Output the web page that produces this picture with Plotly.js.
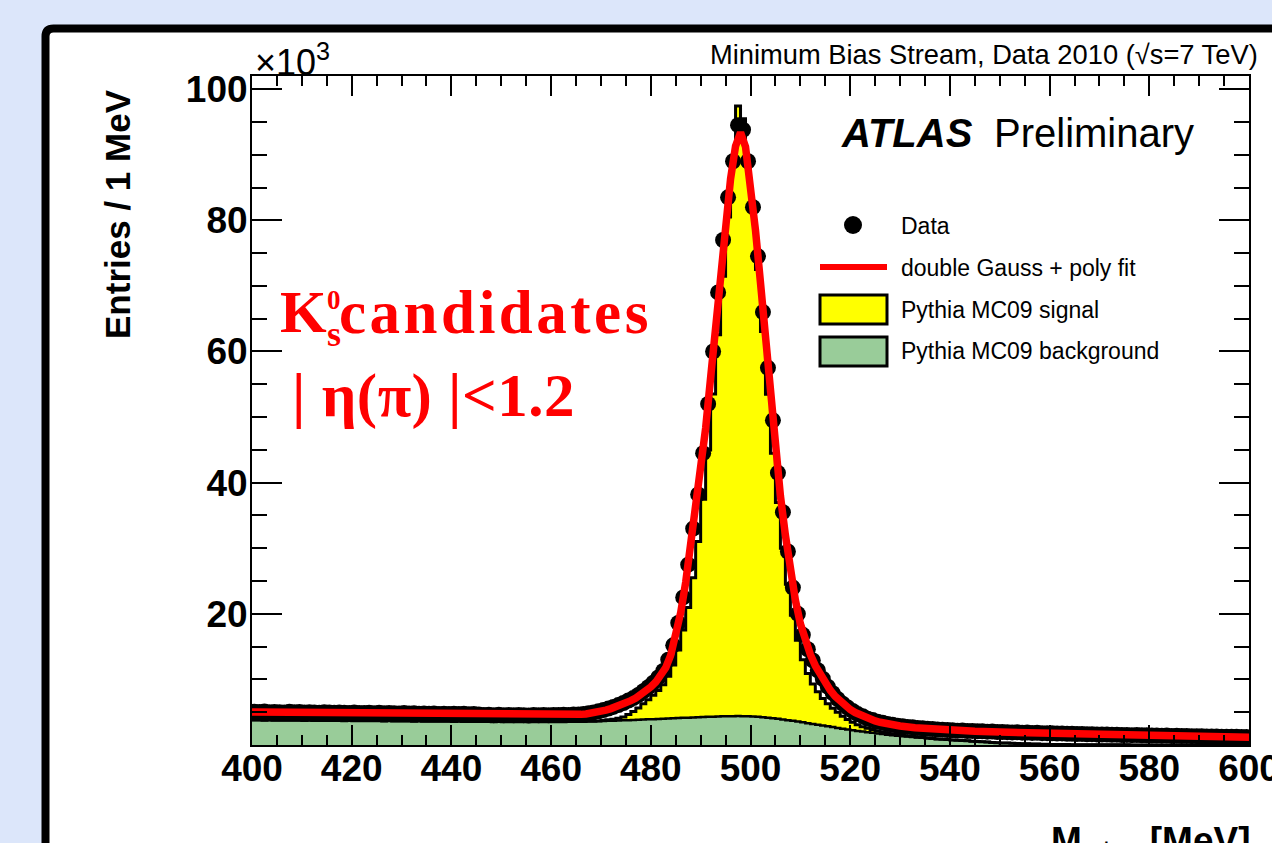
<!DOCTYPE html>
<html>
<head>
<meta charset="utf-8">
<script src="https://cdn.plot.ly/plotly-3.0.1.min.js"></script>
<style>
html,body{margin:0;padding:0;background:#dce6fa;}
#chart{width:1272px;height:843px;}
</style>
</head>
<body>
<div id="chart"></div>
<script>
// ---------------- data (entries in units of 10^3 per 1 MeV bin) ----------------
const binLowEdge = 400;
const binWidth = 1;

const dataCounts = [
  5.08,5.02,5.10,4.98,5.05,5.00,4.95,5.06,4.99,5.03,
  4.94,5.01,4.97,4.92,5.00,4.95,4.90,4.97,4.93,4.88,
  4.95,4.89,4.86,4.92,4.85,4.90,4.83,4.88,4.84,4.80,
  4.86,4.79,4.83,4.78,4.81,4.76,4.80,4.74,4.78,4.72,
  4.77,4.71,4.75,4.69,4.73,4.66,4.58,4.62,4.55,4.60,
  4.53,4.58,4.52,4.57,4.55,4.50,4.56,4.53,4.58,4.54,
  4.59,4.56,4.61,4.58,4.64,4.66,4.72,4.83,4.97,5.13,
  5.33,5.55,5.80,6.08,6.40,6.78,7.15,7.62,8.20,8.80,
  9.50,10.3,11.3,13.0,15.2,18.6,22.5,27.5,33.0,38.2,
  44.5,52.0,60.0,69.0,77.0,83.5,89.0,94.5,93.8,89.0,
  82.0,74.5,66.0,57.5,49.5,41.5,35.5,29.5,24.0,20.0,
  16.8,14.6,12.9,11.4,10.1,8.90,7.90,7.00,6.30,5.70,
  5.18,4.72,4.40,4.02,3.80,3.55,3.40,3.20,3.10,2.94,
  2.86,2.76,2.70,2.58,2.55,2.46,2.44,2.36,2.34,2.27,
  2.26,2.19,2.20,2.13,2.14,2.08,2.09,2.03,2.04,1.98,
  1.97,1.95,1.92,1.93,1.88,1.89,1.84,1.85,1.80,1.81,
  1.78,1.75,1.76,1.71,1.72,1.68,1.69,1.64,1.65,1.61,
  1.60,1.59,1.56,1.57,1.53,1.54,1.50,1.51,1.47,1.48,
  1.45,1.44,1.42,1.43,1.39,1.40,1.37,1.38,1.34,1.35,
  1.32,1.31,1.29,1.30,1.27,1.27,1.24,1.25,1.22,1.21
];

const mcBackground = [
  3.80,3.81,3.79,3.80,3.78,3.79,3.77,3.78,3.76,3.77,
  3.75,3.76,3.74,3.75,3.73,3.74,3.72,3.73,3.71,3.72,
  3.70,3.71,3.69,3.70,3.68,3.69,3.67,3.68,3.66,3.67,
  3.65,3.66,3.64,3.65,3.63,3.64,3.62,3.63,3.61,3.62,
  3.60,3.61,3.59,3.60,3.58,3.59,3.57,3.58,3.56,3.57,
  3.55,3.56,3.54,3.55,3.54,3.55,3.53,3.54,3.54,3.55,
  3.55,3.56,3.56,3.57,3.58,3.59,3.60,3.62,3.63,3.65,
  3.67,3.69,3.71,3.74,3.76,3.79,3.82,3.85,3.88,3.91,
  3.94,3.97,4.00,4.04,4.07,4.10,4.14,4.17,4.20,4.23,
  4.26,4.29,4.32,4.35,4.37,4.39,4.40,4.41,4.40,4.38,
  4.34,4.29,4.23,4.16,4.08,3.99,3.89,3.79,3.68,3.57,
  3.45,3.33,3.21,3.09,2.97,2.85,2.73,2.61,2.49,2.37,
  2.26,2.15,2.05,1.95,1.85,1.76,1.67,1.58,1.50,1.42,
  1.35,1.28,1.21,1.15,1.09,1.03,0.98,0.93,0.88,0.83,
  0.78,0.73,0.68,0.63,0.58,0.53,0.48,0.44,0.40,0.36,
  0.32,0.29,0.26,0.23,0.20,0.18,0.16,0.14,0.12,0.10,
  0.09,0.08,0.07,0.06,0.05,0.05,0.04,0.04,0.03,0.03,
  0.03,0.02,0.02,0.02,0.02,0.02,0.01,0.01,0.01,0.01,
  0.01,0.01,0.01,0.01,0.01,0.01,0.01,0.01,0.01,0.01,
  0.01,0.01,0.01,0.01,0.01,0.01,0.01,0.01,0.01,0.01
];

// MC signal, stacked on the background, starting at bin 470 MeV
const mcSignalFirstBin = 470;
const mcSignal = [
  0.10,0.15,0.22,0.32,0.50,0.85,1.30,1.80,2.40,3.00,
  3.66,4.33,5.20,6.46,8.13,10.4,13.4,16.8,21.3,26.8,
  33.2,40.7,49.2,58.2,67.1,76.1,84.6,93.0,91.1,85.1,
  77.2,68.2,58.8,49.3,40.4,33.0,26.1,20.7,16.1,12.4,
  9.55,7.57,6.09,5.01,4.13,3.45,2.87,2.39,1.91,1.53,
  1.19,0.95,0.75,0.60,0.50,0.39,0.33,0.27,0.22,0.18,
  0.13,0.10,0.08,0.06,0.04,0.03
];

// double Gauss + poly fit curve
const fitMass = [
  400,410,420,430,440,445,450,455,460,463,
  466,467,468,469,470,471,472,473,474,475,476,477,478,479,
  480,481,482,483,484,485,486,487,488,489,
  490,491,492,493,494,495,496,497,498,499,
  500,501,502,503,504,505,506,507,508,509,
  510,511,512,513,514,515,516,517,518,519,
  520,521,522,523,524,525,526,527,528,529,530,
  533,536,540,545,550,560,570,580,590,600
];
const fitValue = [
  5.05,4.97,4.89,4.82,4.75,4.72,4.57,4.56,4.58,4.61,
  4.67,4.74,4.84,4.97,5.13,5.32,5.55,5.80,6.08,6.40,6.76,7.17,7.65,8.20,
  8.85,9.60,10.5,11.8,13.7,16.5,20.2,24.8,30.2,35.8,
  41.8,48.3,56.0,64.3,72.3,79.8,86.3,91.3,93.4,91.2,
  85.8,78.5,70.5,62.0,53.2,45.0,38.0,32.0,26.6,22.1,
  18.5,15.8,13.8,12.1,10.7,9.45,8.35,7.42,6.62,5.95,
  5.40,4.95,4.56,4.22,3.93,3.68,3.47,3.29,3.14,3.01,2.90,
  2.64,2.45,2.27,2.10,1.97,1.78,1.60,1.45,1.32,1.20
];

const yTickVals = [20, 40, 60, 80, 100];
const legendLabels = ["Data", "double Gauss + poly fit", "Pythia MC09 signal", "Pythia MC09 background"];

// ---------------- derived histogram geometry ----------------
const nBins = dataCounts.length;
const edges = [], centers = [];
for (let i = 0; i <= nBins; i++) edges.push(binLowEdge + i * binWidth);
for (let i = 0; i < nBins; i++) centers.push(binLowEdge + (i + 0.5) * binWidth);
const mcTotal = mcBackground.map((b, i) => {
  const j = i - (mcSignalFirstBin - binLowEdge);
  return b + (j >= 0 && j < mcSignal.length ? mcSignal[j] : 0);
});
const stepY = arr => arr.concat([arr[arr.length - 1]]);

// ---------------- layout helpers (pixel -> paper) ----------------
const ML = 252, MT = 76, PW = 997, PH = 669;
const X = px => (px - ML) / PW;
const Y = py => (MT + PH - py) / PH;

const SANS = 'Liberation Sans, Arial, Helvetica, sans-serif';
const SERIF = 'Liberation Serif, Times New Roman, serif';
const RED = '#ff0000';
const GREEN = '#99cc99';
const YELLOW = '#ffff00';

const traces = [
  {
    type: 'scatter', mode: 'lines', name: legendLabels[3],
    x: edges, y: stepY(mcBackground), line: {shape: 'hv', color: 'black', width: 2.5},
    fill: 'tozeroy', fillcolor: GREEN, hoverinfo: 'skip', showlegend: false
  },
  {
    type: 'scatter', mode: 'lines', name: legendLabels[2],
    x: edges, y: stepY(mcTotal), line: {shape: 'hv', color: 'black', width: 3},
    fill: 'tonexty', fillcolor: YELLOW, hoverinfo: 'skip', showlegend: false
  },
  {
    type: 'scatter', mode: 'markers', name: legendLabels[0],
    x: centers, y: dataCounts, marker: {color: 'black', size: 16}, showlegend: false
  },
  {
    type: 'scatter', mode: 'lines', name: legendLabels[1],
    x: fitMass, y: fitValue, line: {color: RED, width: 7.5}, showlegend: false
  }
];

function roundedPanel(l, t, r, b, rad) {
  return `M ${X(l)},${Y(b)} L ${X(l)},${Y(t + rad)} Q ${X(l)},${Y(t)} ${X(l + rad)},${Y(t)} ` +
         `L ${X(r)},${Y(t)} L ${X(r)},${Y(b)} Z`;
}

const shapes = [
  {type: 'path', xref: 'paper', yref: 'paper', layer: 'below',
   path: roundedPanel(45.5, 28.5, 1330, 900, 8),
   fillcolor: 'white', line: {color: 'black', width: 8}},
  // legend symbols
  {type: 'circle', xref: 'paper', yref: 'paper', x0: X(844), x1: X(862), y0: Y(234), y1: Y(216),
   fillcolor: 'black', line: {color: 'black', width: 0}},
  {type: 'line', xref: 'paper', yref: 'paper', x0: X(820), x1: X(887), y0: Y(267), y1: Y(267),
   line: {color: RED, width: 6}},
  {type: 'rect', xref: 'paper', yref: 'paper', x0: X(820), x1: X(887), y0: Y(324), y1: Y(295),
   fillcolor: YELLOW, line: {color: 'black', width: 3}},
  {type: 'rect', xref: 'paper', yref: 'paper', x0: X(820), x1: X(887), y0: Y(366), y1: Y(337),
   fillcolor: GREEN, line: {color: 'black', width: 3}}
];

function ann(text, px, py, opts) {
  return Object.assign({text: text, xref: 'paper', yref: 'paper', x: X(px), y: Y(py),
    showarrow: false, xanchor: 'left', yanchor: 'middle'}, opts);
}

const annotations = [
  ann('×10<sup>3</sup>', 253, 60, {font: {family: SANS, size: 36, color: 'black'}}),
  ann('Minimum Bias Stream, Data 2010 (√s=7 TeV)', 1260, 55,
      {xanchor: 'right', font: {family: SANS, size: 27.3, color: 'black'}}),
  ann('ATLAS', 975, 133, {xanchor: 'right', font: {family: SANS, size: 40, color: 'black', weight: 'bold', style: 'italic'}}),
  ann('Preliminary', 992, 133, {font: {family: SANS, size: 40, color: 'black'}}),
  ann(legendLabels[0], 899, 226, {font: {family: SANS, size: 23, color: 'black'}}),
  ann(legendLabels[1], 899, 268, {font: {family: SANS, size: 23, color: 'black'}}),
  ann(legendLabels[2], 899, 310, {font: {family: SANS, size: 23, color: 'black'}}),
  ann(legendLabels[3], 899, 351, {font: {family: SANS, size: 23, color: 'black'}}),
  ann('K', 278, 312, {font: {family: SERIF, size: 60, color: RED, weight: 'bold'}}),
  ann('0', 325, 300, {font: {family: SERIF, size: 27, color: RED, weight: 'bold'}}),
  ann('s', 325, 334, {font: {family: SERIF, size: 36, color: RED, weight: 'bold'}}),
  ann('<span style="letter-spacing:3.5px">candidates</span>', 337, 312,
      {font: {family: SERIF, size: 61, color: RED, weight: 'bold'}}),
  ann('<span style="letter-spacing:0.5px">| η(π) |<1.2</span>', 290, 396,
      {font: {family: SERIF, size: 61, color: RED, weight: 'bold'}}),
  ann('Entries / 1 MeV', 117, 214, {xanchor: 'center', textangle: -90,
      font: {family: SANS, size: 35, color: 'black', weight: 'bold'}}),
  ann('M<sub>π⁺π⁻</sub> [MeV]', 1252, 818, {xanchor: 'right', yanchor: 'top',
      font: {family: SANS, size: 37, color: 'black', weight: 'bold'}})
];

const layout = {
  width: 1272, height: 843,
  margin: {l: ML, r: 1272 - ML - PW, t: MT, b: 843 - MT - PH, pad: 0},
  paper_bgcolor: '#dce6fa',
  plot_bgcolor: 'white',
  showlegend: false,
  xaxis: {
    range: [400, 600], tickmode: 'linear', tick0: 400, dtick: 20,
    ticks: 'inside', ticklen: 20, tickwidth: 2, tickcolor: 'black',
    showline: true, linecolor: 'black', linewidth: 2, mirror: 'ticks',
    showgrid: false, zeroline: false, ticklabeloverflow: 'allow',
    ticklabelstandoff: -10,
    tickfont: {family: SANS, size: 37, color: 'black', weight: 'bold'},
    minor: {tickmode: 'linear', tick0: 400, dtick: 5, ticks: 'inside', ticklen: 10, tickwidth: 2, tickcolor: 'black', showgrid: false}
  },
  yaxis: {
    range: [0, 102], tickmode: 'array', tickvals: yTickVals, ticktext: yTickVals.map(String),
    ticks: 'inside', ticklen: 30, tickwidth: 2, tickcolor: 'black',
    showline: true, linecolor: 'black', linewidth: 2, mirror: 'ticks',
    showgrid: false, zeroline: false, ticklabeloverflow: 'allow',
    ticklabelstandoff: -5,
    tickfont: {family: SANS, size: 37, color: 'black', weight: 'bold'},
    minor: {tickmode: 'linear', tick0: 0, dtick: 5, ticks: 'inside', ticklen: 15, tickwidth: 2, tickcolor: 'black', showgrid: false}
  },
  shapes: shapes,
  annotations: annotations
};

Plotly.newPlot('chart', traces, layout, {displayModeBar: false, staticPlot: true});
</script>
</body>
</html>
